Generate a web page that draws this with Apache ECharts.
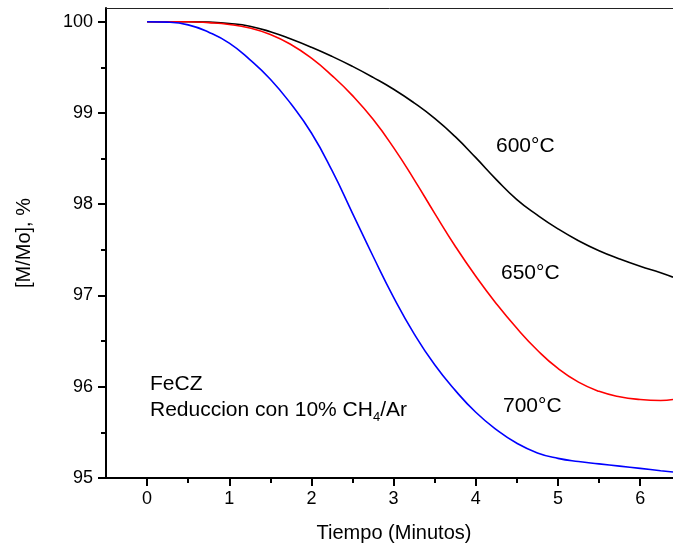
<!DOCTYPE html>
<html>
<head>
<meta charset="utf-8">
<script src="https://cdn.jsdelivr.net/npm/echarts@6/dist/echarts.min.js"></script>
<style>
html,body{margin:0;padding:0;background:#fff;}
#chart{width:673px;height:548px;}
</style>
</head>
<body>
<div id="chart"></div>
<script>
// Time (minutes)
const tValues = [0, 0.25, 0.5, 0.75, 1.0, 1.25, 1.5, 1.75, 2.0, 2.25, 2.5, 2.75, 3.0, 3.25, 3.5, 3.75, 4.0, 4.25, 4.5, 4.75, 5.0, 5.25, 5.5, 5.75, 6.0, 6.25, 6.4];
// [M/Mo] % series
const s600 = [100, 100, 100, 99.995, 99.98, 99.95, 99.89, 99.81, 99.72, 99.62, 99.51, 99.39, 99.26, 99.11, 98.94, 98.74, 98.51, 98.27, 98.05, 97.88, 97.73, 97.60, 97.49, 97.40, 97.32, 97.25, 97.20];
const s650 = [100, 100, 100, 99.99, 99.97, 99.93, 99.86, 99.75, 99.60, 99.41, 99.19, 98.93, 98.62, 98.27, 97.90, 97.54, 97.21, 96.91, 96.64, 96.40, 96.20, 96.05, 95.95, 95.89, 95.86, 95.85, 95.86];
const s700 = [100, 99.995, 99.965, 99.885, 99.765, 99.585, 99.37, 99.10, 98.78, 98.37, 97.90, 97.43, 96.98, 96.58, 96.24, 95.96, 95.72, 95.53, 95.38, 95.275, 95.215, 95.18, 95.155, 95.13, 95.105, 95.08, 95.065];
const seriesNames = ['600°C', '650°C', '700°C'];
const seriesColors = ['#000000', '#ff0000', '#0000ff'];
const xMajorTicks = [0, 1, 2, 3, 4, 5, 6];
const xMinorTicks = [0.5, 1.5, 2.5, 3.5, 4.5, 5.5];
const yMajorTicks = [95, 96, 97, 98, 99, 100];
const yMinorTicks = [95.5, 96.5, 97.5, 98.5, 99.5];
const xTitle = 'Tiempo (Minutos)';
const yTitle = '[M/Mo], %';

const FONT = "'Liberation Sans', Arial, Helvetica, sans-serif";
const XMIN = -0.5, XMAX = 6.4, YMIN = 95, YMAX = 100.15;

const zip = arr => tValues.map((t, i) => [t, arr[i]]);
const allData = [s600, s650, s700];

const chart = echarts.init(document.getElementById('chart'));
chart.setOption({
  backgroundColor: '#ffffff',
  animation: false,
  grid: {left: 106, right: 0, top: 8, bottom: 70, containLabel: false},
  xAxis: [
    {
      type: 'value', min: XMIN, max: XMAX, position: 'bottom',
      name: xTitle, nameLocation: 'middle', nameGap: 45,
      nameTextStyle: {fontFamily: FONT, fontSize: 20, color: '#000', padding: [0, 0, 0, 9]},
      axisLine: {show: true, onZero: false, lineStyle: {color: '#000', width: 2}},
      axisTick: {show: true, customValues: xMajorTicks, length: 8, inside: false, lineStyle: {color: '#000', width: 2}},
      axisLabel: {show: true, customValues: xMajorTicks, margin: 12, fontFamily: FONT, fontSize: 18, color: '#000'},
      splitLine: {show: false}
    },
    {
      type: 'value', min: XMIN, max: XMAX, position: 'bottom', gridIndex: 0,
      axisLine: {show: false, onZero: false},
      axisTick: {show: true, customValues: xMinorTicks, length: 5, lineStyle: {color: '#000', width: 2}},
      axisLabel: {show: false},
      splitLine: {show: false}
    },
    {
      type: 'value', min: XMIN, max: XMAX, position: 'top', gridIndex: 0,
      axisLine: {show: true, onZero: false, lineStyle: {color: '#222', width: 1}},
      axisTick: {show: false}, axisLabel: {show: false}, splitLine: {show: false}
    }
  ],
  yAxis: [
    {
      type: 'value', min: YMIN, max: YMAX, position: 'left',
      name: yTitle, nameLocation: 'middle', nameGap: 72, nameRotate: 90,
      nameTextStyle: {fontFamily: FONT, fontSize: 20, color: '#000'},
      axisLine: {show: true, onZero: false, lineStyle: {color: '#000', width: 2}},
      axisTick: {show: true, customValues: yMajorTicks, length: 8, lineStyle: {color: '#000', width: 2}},
      axisLabel: {show: true, customValues: yMajorTicks, margin: 13, fontFamily: FONT, fontSize: 18, color: '#000'},
      splitLine: {show: false}
    },
    {
      type: 'value', min: YMIN, max: YMAX, position: 'left', gridIndex: 0,
      axisLine: {show: false, onZero: false},
      axisTick: {show: true, customValues: yMinorTicks, length: 5, lineStyle: {color: '#000', width: 2}},
      axisLabel: {show: false}, splitLine: {show: false}
    }
  ],
  title: [
    {text: seriesNames[0], left: 496, top: 136, textStyle: {fontFamily: FONT, fontSize: 21, fontWeight: 'normal', color: '#000'}, padding: 0},
    {text: seriesNames[1], left: 501, top: 263, textStyle: {fontFamily: FONT, fontSize: 21, fontWeight: 'normal', color: '#000'}, padding: 0},
    {text: seriesNames[2], left: 503, top: 396, textStyle: {fontFamily: FONT, fontSize: 21, fontWeight: 'normal', color: '#000'}, padding: 0},
    {text: 'FeCZ', left: 150, top: 374, textStyle: {fontFamily: FONT, fontSize: 21, fontWeight: 'normal', color: '#000'}, padding: 0},
    {text: '{a|Reduccion con 10% CH}{s|4}{a|/Ar}', left: 150, top: 396, padding: 0,
      textStyle: {fontFamily: FONT, fontSize: 21, fontWeight: 'normal', color: '#000',
        rich: {
          a: {fontFamily: FONT, fontSize: 21, color: '#000'},
          s: {fontFamily: FONT, fontSize: 13, color: '#000', padding: [15, 0, 0, 0]}
        }}}
  ],
  series: allData.map((arr, i) => ({
    name: seriesNames[i], type: 'line', xAxisIndex: 0, yAxisIndex: 0,
    data: zip(arr), smooth: 0.5, showSymbol: false, symbol: 'none',
    lineStyle: {color: seriesColors[i], width: 1.6}, clip: true
  }))
});
</script>
</body>
</html>
